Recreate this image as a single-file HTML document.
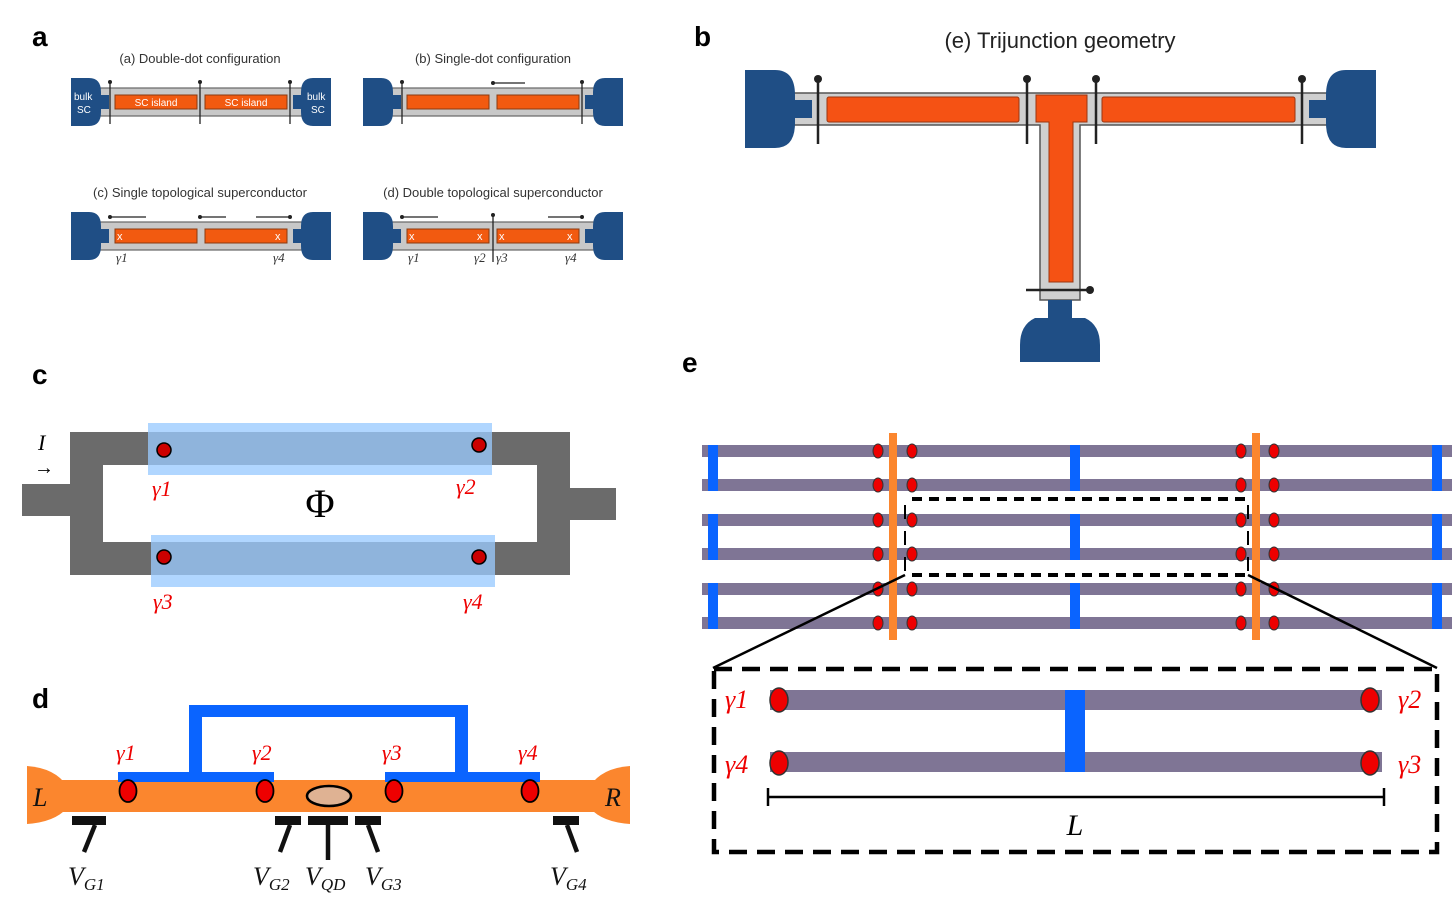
<!DOCTYPE html>
<html><head><meta charset="utf-8"><style>
html,body{margin:0;padding:0;background:#fff}
svg{display:block}
text{font-family:"Liberation Sans",sans-serif}
.ser text, text.ser{font-family:"Liberation Serif",serif;font-style:italic}
</style></head><body>
<svg width="1452" height="912" viewBox="0 0 1452 912" xmlns="http://www.w3.org/2000/svg">
<defs>
<g id="dev">
 <rect x="24" y="10" width="212" height="28" fill="#c8c8c8" stroke="#666" stroke-width="1.2"/>
 <path d="M0 0 H18 Q30 0 30 14 V17 H38 V31 H30 V34 Q30 48 18 48 H0 Z" fill="#1f4e85"/>
 <path d="M260 0 H242 Q230 0 230 14 V17 H222 V31 H230 V34 Q230 48 242 48 H260 Z" fill="#1f4e85"/>
</g>
</defs>

<g font-weight="bold" font-size="28" fill="#000">
<text x="32" y="46">a</text>
<text x="694" y="46">b</text>
<text x="32" y="384">c</text>
<text x="682" y="372">e</text>
<text x="32" y="708">d</text>
</g>

<g font-size="13" fill="#333" text-anchor="middle">
<text x="200" y="63">(a) Double-dot configuration</text>
<text x="493" y="63">(b) Single-dot configuration</text>
<text x="200" y="197">(c) Single topological superconductor</text>
<text x="493" y="197">(d) Double topological superconductor</text>
</g>
<g transform="translate(71,78)">
 <use href="#dev"/>
 <rect x="44" y="17" width="82" height="14" fill="#f25a10" stroke="#8a3a10"/>
 <rect x="134" y="17" width="82" height="14" fill="#f25a10" stroke="#8a3a10"/>
 <g stroke="#222" stroke-width="1.3"><line x1="39" y1="4" x2="39" y2="46"/><line x1="129" y1="4" x2="129" y2="46"/><line x1="219" y1="4" x2="219" y2="46"/></g>
 <g fill="#222"><circle cx="39" cy="4" r="2"/><circle cx="129" cy="4" r="2"/><circle cx="219" cy="4" r="2"/></g>
 <g font-size="10" fill="#fff"><text x="3" y="22">bulk</text><text x="6" y="35">SC</text><text x="236" y="22">bulk</text><text x="240" y="35">SC</text>
 <text x="85" y="28" text-anchor="middle">SC island</text><text x="175" y="28" text-anchor="middle">SC island</text></g>
</g>
<g transform="translate(363,78)">
 <use href="#dev"/>
 <rect x="44" y="17" width="82" height="14" fill="#f25a10" stroke="#8a3a10"/>
 <rect x="134" y="17" width="82" height="14" fill="#f25a10" stroke="#8a3a10"/>
 <g stroke="#222" stroke-width="1.3"><line x1="39" y1="4" x2="39" y2="46"/><line x1="219" y1="4" x2="219" y2="46"/><line x1="130" y1="5" x2="162" y2="5"/></g>
 <g fill="#222"><circle cx="39" cy="4" r="2"/><circle cx="219" cy="4" r="2"/><circle cx="130" cy="5" r="2"/></g>
</g>
<g transform="translate(71,212)">
 <use href="#dev"/>
 <rect x="44" y="17" width="82" height="14" fill="#f25a10" stroke="#8a3a10"/>
 <rect x="134" y="17" width="82" height="14" fill="#f25a10" stroke="#8a3a10"/>
 <g stroke="#222" stroke-width="1.3"><line x1="39" y1="5" x2="75" y2="5"/><line x1="129" y1="5" x2="155" y2="5"/><line x1="185" y1="5" x2="219" y2="5"/></g>
 <g fill="#222"><circle cx="39" cy="5" r="2"/><circle cx="129" cy="5" r="2"/><circle cx="219" cy="5" r="2"/></g>
 <g fill="#fff" font-size="11"><text x="46" y="28">x</text><text x="204" y="28">x</text></g>
 <g class="ser" font-size="13" fill="#333"><text x="45" y="50">γ1</text><text x="202" y="50">γ4</text></g>
</g>
<g transform="translate(363,212)">
 <use href="#dev"/>
 <rect x="44" y="17" width="82" height="14" fill="#f25a10" stroke="#8a3a10"/>
 <rect x="134" y="17" width="82" height="14" fill="#f25a10" stroke="#8a3a10"/>
 <g stroke="#222" stroke-width="1.3"><line x1="39" y1="5" x2="75" y2="5"/><line x1="130" y1="3" x2="130" y2="50"/><line x1="185" y1="5" x2="219" y2="5"/></g>
 <g fill="#222"><circle cx="39" cy="5" r="2"/><circle cx="130" cy="3" r="2"/><circle cx="219" cy="5" r="2"/></g>
 <g fill="#fff" font-size="11"><text x="46" y="28">x</text><text x="114" y="28">x</text><text x="136" y="28">x</text><text x="204" y="28">x</text></g>
 <g class="ser" font-size="13" fill="#333"><text x="45" y="50">γ1</text><text x="111" y="50">γ2</text><text x="133" y="50">γ3</text><text x="202" y="50">γ4</text></g>
</g>

<text x="1060" y="48" font-size="22" text-anchor="middle" fill="#222">(e) Trijunction geometry</text>
<g>
 <path d="M790 93 H1330 V125 H1080 V300 H1040 V125 H790 Z" fill="#cfcfcf" stroke="#555" stroke-width="1.5"/>
 <path d="M745 70 H775 Q795 70 795 95 V100 H812 V118 H795 V123 Q795 148 775 148 H745 Z" fill="#1f4e85"/>
 <path d="M1376 70 H1346 Q1326 70 1326 95 V100 H1309 V118 H1326 V123 Q1326 148 1346 148 H1376 Z" fill="#1f4e85"/>
 <path d="M1048 300 H1072 V318 H1085 Q1100 325 1100 345 V362 H1020 V345 Q1020 325 1035 318 H1048 Z" fill="#1f4e85"/>
 <rect x="827" y="97" width="192" height="25" rx="2" fill="#f55214" stroke="#9a3510"/>
 <rect x="1102" y="97" width="193" height="25" rx="2" fill="#f55214" stroke="#9a3510"/>
 <path d="M1036 95 H1087 V122 H1073 V282 H1049 V122 H1036 Z" fill="#f55214" stroke="#9a3510"/>
 <g stroke="#222" stroke-width="2.5"><line x1="818" y1="79" x2="818" y2="144"/><line x1="1027" y1="79" x2="1027" y2="144"/><line x1="1096" y1="79" x2="1096" y2="144"/><line x1="1302" y1="79" x2="1302" y2="144"/><line x1="1026" y1="290" x2="1090" y2="290"/></g>
 <g fill="#222"><circle cx="818" cy="79" r="4"/><circle cx="1027" cy="79" r="4"/><circle cx="1096" cy="79" r="4"/><circle cx="1302" cy="79" r="4"/><circle cx="1090" cy="290" r="4"/></g>
</g>

<g>
 <g fill="#6b6b6b">
  <rect x="70" y="432" width="90" height="33"/><rect x="70" y="432" width="33" height="143"/><rect x="70" y="542" width="90" height="33"/>
  <rect x="22" y="484" width="50" height="32"/>
  <rect x="480" y="432" width="90" height="33"/><rect x="537" y="432" width="33" height="143"/><rect x="480" y="542" width="90" height="33"/>
  <rect x="570" y="488" width="46" height="32"/>
 </g>
 <rect x="148" y="423" width="344" height="52" fill="#b0d6ff"/>
 <rect x="148" y="432" width="344" height="33" fill="#8fb4dc"/>
 <rect x="151" y="535" width="344" height="52" fill="#b0d6ff"/>
 <rect x="151" y="542" width="344" height="33" fill="#8fb4dc"/>
 <g fill="#c00" stroke="#000" stroke-width="1.5"><circle cx="164" cy="450" r="7"/><circle cx="479" cy="445" r="7"/><circle cx="164" cy="557" r="7"/><circle cx="479" cy="557" r="7"/></g>
 <g class="ser" font-size="22" fill="#e00"><text x="152" y="496">γ1</text><text x="456" y="494">γ2</text><text x="153" y="609">γ3</text><text x="463" y="609">γ4</text></g>
 <text x="320" y="517" font-family="Liberation Serif,serif" font-size="40" text-anchor="middle" style="font-family:'Liberation Serif',serif">Φ</text>
 <text x="38" y="450" class="ser" font-size="22">I</text>
 <text x="34" y="474" font-size="20" style="font-family:'Liberation Serif',serif">→</text>
</g>

<g>
 <rect x="55" y="780" width="550" height="32" fill="#fb862e"/>
 <path d="M27 766 Q55 768 67 786 V808 Q55 822 27 824 Z" fill="#fb862e"/>
 <path d="M630 766 Q602 768 590 786 V808 Q602 822 630 824 Z" fill="#fb862e"/>
 <g fill="#0a64ff">
  <rect x="189" y="705" width="279" height="12"/><rect x="189" y="705" width="13" height="72"/><rect x="455" y="705" width="13" height="72"/>
  <rect x="118" y="772" width="156" height="10"/><rect x="385" y="772" width="155" height="10"/>
 </g>
 <g fill="#e00" stroke="#000" stroke-width="1.8"><ellipse cx="128" cy="791" rx="8.5" ry="11"/><ellipse cx="265" cy="791" rx="8.5" ry="11"/><ellipse cx="394" cy="791" rx="8.5" ry="11"/><ellipse cx="530" cy="791" rx="8.5" ry="11"/></g>
 <ellipse cx="329" cy="796" rx="22" ry="10" fill="#dfb293" stroke="#000" stroke-width="2.5"/>
 <g fill="#111">
  <rect x="72" y="816" width="34" height="9"/><rect x="275" y="816" width="26" height="9"/><rect x="308" y="816" width="40" height="9"/><rect x="355" y="816" width="26" height="9"/><rect x="553" y="816" width="26" height="9"/>
 </g>
 <g stroke="#111" stroke-width="4.5"><line x1="95" y1="825" x2="84" y2="852"/><line x1="290" y1="825" x2="280" y2="852"/><line x1="328" y1="825" x2="328" y2="860"/><line x1="368" y1="825" x2="378" y2="852"/><line x1="567" y1="825" x2="577" y2="852"/></g>
 <g class="ser" font-size="22" fill="#e00"><text x="116" y="760">γ1</text><text x="252" y="760">γ2</text><text x="382" y="760">γ3</text><text x="518" y="760">γ4</text></g>
 <g class="ser" font-size="26" fill="#111"><text x="33" y="806">L</text><text x="605" y="806">R</text></g>
 <g class="ser" fill="#111" font-size="26">
  <text x="68" y="885">V<tspan font-size="17" dy="5">G1</tspan></text>
  <text x="253" y="885">V<tspan font-size="17" dy="5">G2</tspan></text>
  <text x="305" y="885">V<tspan font-size="17" dy="5">QD</tspan></text>
  <text x="365" y="885">V<tspan font-size="17" dy="5">G3</tspan></text>
  <text x="550" y="885">V<tspan font-size="17" dy="5">G4</tspan></text>
 </g>
</g>

<g>
 <g fill="#7f7595">
  <rect x="702" y="445" width="750" height="12"/><rect x="702" y="479" width="750" height="12"/>
  <rect x="702" y="514" width="750" height="12"/><rect x="702" y="548" width="750" height="12"/>
  <rect x="702" y="583" width="750" height="12"/><rect x="702" y="617" width="750" height="12"/>
 </g>
 <g fill="#0a64ff">
  <rect x="708" y="445" width="10" height="46"/><rect x="708" y="514" width="10" height="46"/><rect x="708" y="583" width="10" height="46"/>
  <rect x="1070" y="445" width="10" height="46"/><rect x="1070" y="514" width="10" height="46"/><rect x="1070" y="583" width="10" height="46"/>
  <rect x="1432" y="445" width="10" height="46"/><rect x="1432" y="514" width="10" height="46"/><rect x="1432" y="583" width="10" height="46"/>
 </g>
 <rect x="889" y="433" width="8" height="207" fill="#fb862e"/>
 <rect x="1252" y="433" width="8" height="207" fill="#fb862e"/>
 <g fill="#e00" stroke="#333" stroke-width="1">
  <g id="dc"><ellipse cx="878" cy="451" rx="5" ry="7"/><ellipse cx="912" cy="451" rx="5" ry="7"/><ellipse cx="1241" cy="451" rx="5" ry="7"/><ellipse cx="1274" cy="451" rx="5" ry="7"/></g>
  <use href="#dc" y="34"/><use href="#dc" y="69"/><use href="#dc" y="103"/><use href="#dc" y="138"/><use href="#dc" y="172"/>
 </g>
 <g stroke="#000" stroke-width="4" fill="none">
  <line x1="912" y1="499" x2="1248" y2="499" stroke-dasharray="10 7"/>
  <line x1="912" y1="575" x2="1248" y2="575" stroke-dasharray="10 7"/>
  <line x1="905" y1="505" x2="905" y2="575" stroke-width="2" stroke-dasharray="14 12"/>
  <line x1="1248" y1="505" x2="1248" y2="575" stroke-width="2" stroke-dasharray="14 12"/>
 </g>
 <g stroke="#000" stroke-width="2.5"><line x1="905" y1="575" x2="713" y2="668"/><line x1="1248" y1="575" x2="1437" y2="668"/></g>
 <rect x="714" y="669" width="723" height="183" fill="none" stroke="#000" stroke-width="4.5" stroke-dasharray="18 10"/>
 <rect x="770" y="690" width="612" height="20" fill="#7f7595"/>
 <rect x="770" y="752" width="612" height="20" fill="#7f7595"/>
 <rect x="1065" y="690" width="20" height="82" fill="#0a64ff"/>
 <g fill="#e00" stroke="#333" stroke-width="1.5"><ellipse cx="779" cy="700" rx="9" ry="12"/><ellipse cx="1370" cy="700" rx="9" ry="12"/><ellipse cx="779" cy="763" rx="9" ry="12"/><ellipse cx="1370" cy="763" rx="9" ry="12"/></g>
 <g class="ser" font-size="26" fill="#e00"><text x="725" y="708">γ1</text><text x="1398" y="708">γ2</text><text x="725" y="773">γ4</text><text x="1398" y="773">γ3</text></g>
 <g stroke="#000" stroke-width="2.5"><line x1="768" y1="797" x2="1384" y2="797"/><line x1="768" y1="788" x2="768" y2="806"/><line x1="1384" y1="788" x2="1384" y2="806"/></g>
 <text x="1075" y="835" class="ser" font-size="30" text-anchor="middle">L</text>
</g>
</svg>
</body></html>
